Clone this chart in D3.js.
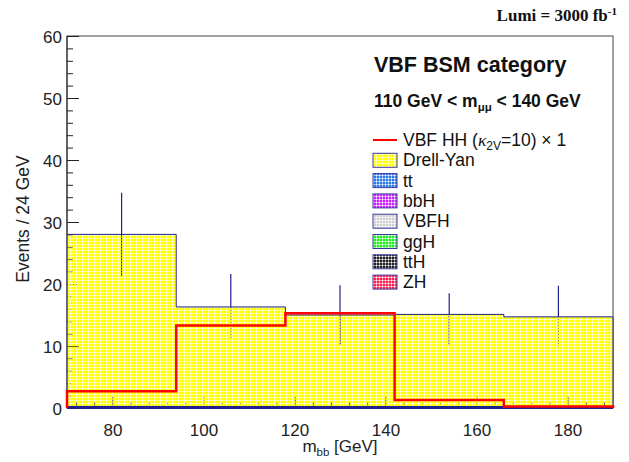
<!DOCTYPE html>
<html>
<head>
<meta charset="utf-8">
<script src="https://cdn.jsdelivr.net/npm/d3@7"></script>
<style>
  html, body { margin: 0; padding: 0; background: #fff; }
  svg { display: block; }
</style>
</head>
<body>
<svg id="chart" width="629" height="462" font-family="'Liberation Sans', Arial, Helvetica, sans-serif"></svg>
<script>
// ---------------- DATA ----------------
const binEdges = [70, 94, 118, 142, 166, 190];
// stacked backgrounds (bottom -> top)
const zhValues   = [0.03, 0.02, 0.02, 0.02, 0.02];
const tthValues  = [0.03, 0.03, 0.02, 0.02, 0.02];
const gghValues  = [0.04, 0.03, 0.03, 0.03, 0.03];
const vbfhValues = [0.04, 0.03, 0.03, 0.03, 0.03];
const bbhValues  = [0.03, 0.02, 0.02, 0.02, 0.02];
const ttValues   = [0.08, 0.07, 0.06, 0.06, 0.05];
const dyValues   = [27.75, 16.1, 14.82, 14.92, 14.53];
// uncertainty band ends (total events)
const errHigh = [34.7, 21.6, 19.8, 18.5, 19.7];
const errLow  = [21.2, 11.3, 10.2, 10.2, 9.9];
// signal
const signalValues = [2.7, 13.3, 15.3, 1.3, 0.25];
const signalLabel = "VBF HH";
// axes
const xTicks = [80, 100, 120, 140, 160, 180];
const yTicks = [0, 10, 20, 30, 40, 50, 60];

const seriesNames  = ["ZH", "ttH", "ggH", "VBFH", "bbH", "tt", "Drell-Yan"];
const seriesValues = [zhValues, tthValues, gghValues, vbfhValues, bbhValues, ttValues, dyValues];
const seriesColors = ["#ff2050", "#202020", "#22ee22", "#d0d0d0", "#cc22ff", "#2a7be8", "#ffff00"];
const legendOrder  = ["Drell-Yan", "tt", "bbH", "VBFH", "ggH", "ttH", "ZH"];

// ---------------- LAYOUT ----------------
const L = 67, R = 613, T = 36, B = 408;
const svg = d3.select("#chart");
const x = d3.scaleLinear().domain([70, 190]).range([L, R]);
const y = d3.scaleLinear().domain([0, 60]).range([B, T]);
const navy = "#202090";
const sans = "'Liberation Sans', Arial, Helvetica, sans-serif";
const serif = "'Liberation Serif', 'Times New Roman', serif";

// hatch patterns (transparent holes so ticks show through, like ROOT)
const defs = svg.append("defs");
seriesColors.forEach((c, i) => {
  const p = defs.append("pattern")
    .attr("id", "pat" + i)
    .attr("patternUnits", "userSpaceOnUse")
    .attr("width", 3).attr("height", 3);
  [[0,0],[2,0],[0,2],[2,2]].forEach(([a,b]) =>
    p.append("rect").attr("x", a).attr("y", b).attr("width", 1).attr("height", 1)
      .attr("fill", c).attr("shape-rendering", "crispEdges"));
  [[1,0],[0,1],[2,1],[1,2]].forEach(([a,b]) =>
    p.append("rect").attr("x", a).attr("y", b).attr("width", 1).attr("height", 1)
      .attr("fill", c).attr("fill-opacity", 0.45).attr("shape-rendering", "crispEdges"));
});

// frame (drawn first, hatch goes over it like ROOT)
svg.append("rect").attr("x", L).attr("y", T).attr("width", R - L).attr("height", B - T)
  .attr("fill", "none").attr("stroke", "#444").attr("stroke-width", 1);

// axes ticks
const yMajor = d3.axisLeft(y).tickValues(yTicks).tickSize(-12).tickPadding(17).tickFormat(d3.format("d"));
const yMinor = d3.axisLeft(y).tickValues(d3.range(0, 61, 2).filter(v => v % 10 !== 0)).tickSize(-6).tickFormat("");
const xMajor = d3.axisBottom(x).tickValues(xTicks).tickSize(-11).tickPadding(16).tickFormat(d3.format("d"));
const xMinor = d3.axisBottom(x).tickValues(d3.range(72, 190, 4).filter(v => v % 20 !== 0)).tickSize(-5.5).tickFormat("");

function styleAxis(g) {
  g.select(".domain").remove();
  g.selectAll("line").attr("stroke", "#222").attr("stroke-width", 1);
  g.selectAll("text").attr("font-size", 17).attr("fill", "#222").attr("font-family", sans);
}
const gy = svg.append("g").attr("transform", `translate(${L},0)`).call(yMajor).call(styleAxis);
gy.selectAll("text").attr("dx", 12).attr("dy", "0.36em");
svg.append("g").attr("transform", `translate(${L},0)`).call(yMinor).call(styleAxis);
const gx = svg.append("g").attr("transform", `translate(0,${B})`).call(xMajor).call(styleAxis);
gx.selectAll("text").attr("dy", "0.71em");
svg.append("g").attr("transform", `translate(0,${B})`).call(xMinor).call(styleAxis);

// error bars (drawn before hatch so lower part appears dashed)
const centers = binEdges.slice(0, -1).map((e, i) => (e + binEdges[i + 1]) / 2);
svg.append("g").selectAll("line").data(centers).join("line")
  .attr("x1", d => x(d)).attr("x2", d => x(d))
  .attr("y1", (d, i) => y(errHigh[i])).attr("y2", (d, i) => y(errLow[i]))
  .attr("stroke", navy).attr("stroke-width", 1.2);

// stack
const nb = binEdges.length - 1;
const cum = [];
let base = new Array(nb).fill(0);
seriesValues.forEach((vals, si) => {
  const top = base.map((b, i) => b + vals[i]);
  cum.push({ base: base.slice(), top: top, si: si });
  base = top;
});

function stepArea(lo, hi) {
  const pts = [];
  for (let i = 0; i < nb; i++) {
    pts.push([binEdges[i], lo[i], hi[i]]);
    pts.push([binEdges[i + 1], lo[i], hi[i]]);
  }
  return d3.area().x(d => x(d[0])).y0(d => y(d[1])).y1(d => y(d[2]))(pts);
}
function stepLine(vals) {
  const pts = [[binEdges[0], 0]];
  for (let i = 0; i < nb; i++) {
    pts.push([binEdges[i], vals[i]]);
    pts.push([binEdges[i + 1], vals[i]]);
  }
  pts.push([binEdges[nb], 0]);
  return d3.line().x(d => x(d[0])).y(d => y(d[1]))(pts);
}

const gStack = svg.append("g");
cum.forEach(c => {
  gStack.append("path").attr("d", stepArea(c.base, c.top))
    .attr("fill", `url(#pat${c.si})`).attr("stroke", "none");
});
cum.forEach(c => {
  gStack.append("path").attr("d", stepLine(c.top))
    .attr("fill", "none").attr("stroke", navy).attr("stroke-width", 1);
});
// thick bottom line from tiny stacked components
svg.append("line").attr("x1", x(70)).attr("x2", x(190)).attr("y1", B - 0.5).attr("y2", B - 0.5)
  .attr("stroke", navy).attr("stroke-width", 3);

// signal
svg.append("path").attr("d", stepLine(signalValues))
  .attr("fill", "none").attr("stroke", "#ff0000").attr("stroke-width", 2.5);

// left axis line above the hatched area
svg.append("line").attr("x1", L).attr("x2", L).attr("y1", T).attr("y2", y(dyValues[0] + 0.3))
  .attr("stroke", "#222").attr("stroke-width", 1);

// axis titles
svg.append("text").attr("x", (L + R) / 2).attr("y", 452).attr("text-anchor", "middle")
  .attr("font-size", 17).attr("fill", "#222")
  .html('m<tspan font-size="11.5" dy="4">bb</tspan><tspan dy="-4"> [GeV]</tspan>');
svg.append("text").attr("transform", `translate(29,${(T + B) / 2 - 3}) rotate(-90)`)
  .attr("text-anchor", "middle").attr("font-size", 17.5).attr("fill", "#222")
  .text("Events / 24 GeV");

// lumi label
svg.append("text").attr("x", 617).attr("y", 21).attr("text-anchor", "end")
  .attr("font-family", serif)
  .attr("font-weight", "bold").attr("font-size", 17).attr("fill", "#111")
  .html('Lumi = 3000 fb<tspan font-size="11" dy="-6">-1</tspan>');

// category labels
svg.append("text").attr("x", 374).attr("y", 72).attr("font-weight", "bold")
  .attr("font-size", 21.5).attr("fill", "#111").text("VBF BSM category");
svg.append("text").attr("x", 374).attr("y", 107).attr("font-weight", "bold")
  .attr("font-size", 17.5).attr("fill", "#111")
  .html('110 GeV &lt; m<tspan font-size="11.5" dy="4">μμ</tspan><tspan dy="-4"> &lt; 140 GeV</tspan>');

// legend
const legY0 = 140, legDy = 20.3;
const lg = svg.append("g");
lg.append("line").attr("x1", 373).attr("x2", 397).attr("y1", legY0).attr("y2", legY0)
  .attr("stroke", "#ff0000").attr("stroke-width", 2);
lg.append("text").attr("x", 403).attr("y", legY0 + 6).attr("font-size", 17.5).attr("fill", "#111")
  .html(signalLabel + ' (<tspan font-style="italic" font-family="' + serif.replace(/'/g, "") + '">κ</tspan><tspan font-size="12" dy="4">2V</tspan><tspan dy="-4">=10) × 1</tspan>');
legendOrder.forEach((name, k) => {
  const si = seriesNames.indexOf(name);
  const cy = legY0 + legDy * (k + 1);
  lg.append("rect").attr("x", 373).attr("y", cy - 7).attr("width", 24).attr("height", 14)
    .attr("fill", "#fff");
  lg.append("rect").attr("x", 373).attr("y", cy - 7).attr("width", 24).attr("height", 14)
    .attr("fill", `url(#pat${si})`).attr("stroke", "#3a3aa0").attr("stroke-width", 1);
  lg.append("text").attr("x", 403).attr("y", cy + 6).attr("font-size", 17.5).attr("fill", "#111")
    .text(name);
});
</script>
</body>
</html>
